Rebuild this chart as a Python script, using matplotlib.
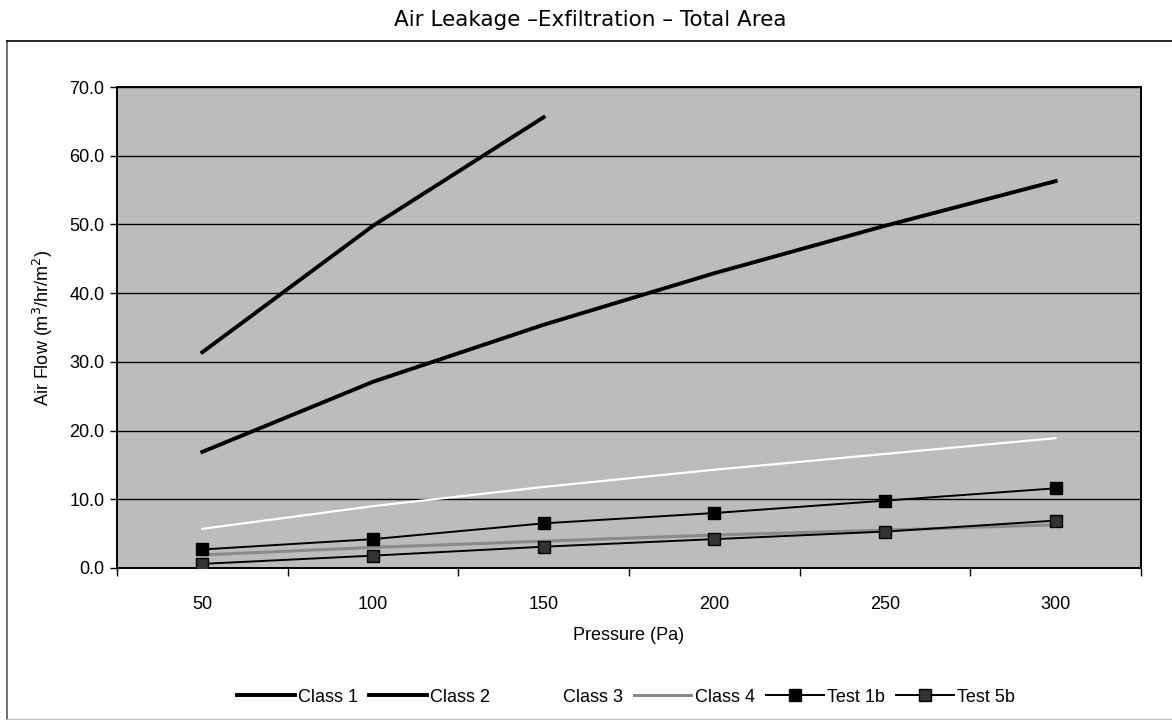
import matplotlib
matplotlib.use('Agg')
import matplotlib.pyplot as plt
import numpy as np

# Data
pressures = ['50', '100', '150', '200', '250', '300']
class1 = [31.4, 49.8, 65.6, np.nan, np.nan, np.nan]
class2 = [16.9, 27.1, 35.4, 42.9, 49.8, 56.3]
class3 = [5.7, 9.0, 11.8, 14.3, 16.6, 18.9]
class4 = [1.9, 3.0, 3.9, 4.8, 5.5, 6.3]
test1b = [2.7, 4.2, 6.5, 8.0, 9.8, 11.6]
test5b = [0.6, 1.8, 3.1, 4.2, 5.3, 6.9]

plt.rcParams['font.family'] = ['Liberation Sans', 'DejaVu Sans']

fig = plt.figure(figsize=(11.72, 7.2), dpi=100)
ax = fig.add_axes([117/1172, 1-568/720, (1141-117)/1172, (568-87)/720])

x = np.arange(len(pressures))

# outer chart frame
fig.add_artist(plt.Line2D([7/1172, 7/1172], [0.002, 1-41/720], color='#555555', lw=1.2))
fig.add_artist(plt.Line2D([7/1172, 1.0], [1-41/720, 1-41/720], color='black', lw=1.2))
fig.add_artist(plt.Line2D([7/1172, 1.0], [0.002, 0.002], color='#bbbbbb', lw=1))

ax.set_facecolor('#bcbcbc')
ax.plot(x, class1, color='black', lw=2.8, label='Class 1', zorder=4)
ax.plot(x, class2, color='black', lw=2.8, label='Class 2', zorder=4)
ax.plot(x, class3, color='white', lw=1.6, label='Class 3', zorder=3)
ax.plot(x, class4, color='#8a8a8a', lw=2.2, label='Class 4', zorder=3)
ax.plot(x, test1b, color='black', lw=1.4, marker='s', ms=8, label='Test 1b', zorder=5)
ax.plot(x, test5b, color='black', lw=1.4, marker='s', ms=8, mfc='#333333', label='Test 5b', zorder=5)

ax.set_xlim(-0.5, len(pressures) - 0.5)
ax.set_ylim(0, 70)
ax.set_yticks(np.arange(0, 71, 10))
ax.set_yticklabels([f'{v:.1f}' for v in np.arange(0, 71, 10)])
ax.set_xticks(x)
ax.set_xticklabels(pressures)
ax.set_xticks(np.arange(-0.5, len(pressures)), minor=True)
ax.tick_params(axis='x', which='major', length=0, pad=20, labelsize=13)
ax.tick_params(axis='x', which='minor', length=6, direction='out', width=1)
ax.tick_params(axis='y', length=5, width=1, labelsize=13, pad=4)
ax.grid(axis='y', color='black', lw=1, zorder=1)
ax.set_axisbelow(True)
for s in ax.spines.values():
    s.set_color('black')
    s.set_linewidth(1.4)

ax.set_xlabel('Pressure (Pa)', fontsize=13, labelpad=10)
ax.set_ylabel('Air Flow (m$^3$/hr/m$^2$)', fontsize=13, labelpad=10)
fig.text(590/1172, 1-20/720, 'Air Leakage \u2013Exfiltration \u2013 Total Area',
         ha='center', va='center', fontsize=15.5, family=['DejaVu Sans'])

handles, labels = ax.get_legend_handles_labels()
fig.legend(handles, labels, loc='center', bbox_to_anchor=(626/1172, 1-697/720),
           ncol=6, frameon=False, fontsize=13, handlelength=3.2, columnspacing=0.6,
           handletextpad=0.2)

fig.savefig('out.png', dpi=100)
